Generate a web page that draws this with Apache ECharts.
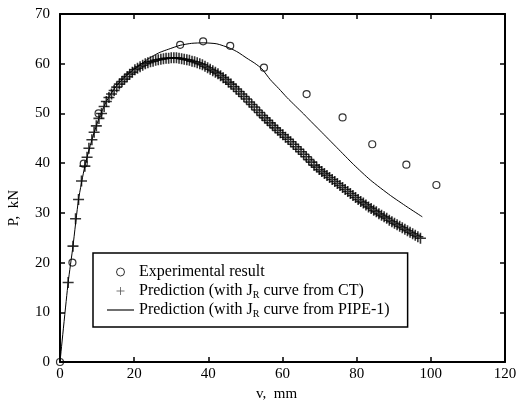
<!DOCTYPE html>
<html>
<head>
<meta charset="utf-8">
<script src="https://cdn.jsdelivr.net/npm/echarts@6/dist/echarts.min.js"></script>
<style>html,body{margin:0;padding:0;background:#fff}#c{width:517px;height:403px}</style>
</head>
<body>
<div id="c"></div>
<script>
// Experimental result (circles)
var expV = [0, 3.35, 6.4, 10.4, 32.4, 38.6, 45.9, 55.0, 66.5, 76.2, 84.2, 93.4, 101.5];
var expP = [0, 20.0, 39.9, 50.0, 63.8, 64.5, 63.6, 59.2, 53.9, 49.2, 43.8, 39.7, 35.6];

// Prediction with J_R curve from CT (crosses)
var ctV = [2.2, 3.5, 4.2, 5.0, 5.8, 6.7, 7.3, 7.8, 8.6, 9.2, 9.8, 10.5, 11.2, 11.9, 12.5,
  13.2, 13.9, 14.6, 15.3, 16.0, 16.7, 17.4, 18.1, 18.8, 19.5, 20.2, 20.9, 21.6, 22.3, 23.0,
  23.7, 24.4, 25.1, 25.8, 26.5, 27.2, 27.9, 28.6, 29.3, 30.0, 30.7, 31.4, 32.1, 32.8, 33.5,
  34.2, 34.9, 35.6, 36.3, 37.0, 37.7, 38.4, 39.1, 39.8, 40.5, 41.2, 41.9, 42.6, 43.3, 44.0,
  44.7, 45.4, 46.1, 46.8, 47.5, 48.2, 48.9, 49.6, 50.3, 51.0, 51.7, 52.4, 53.1, 53.8, 54.5,
  55.2, 55.9, 56.6, 57.3, 58.0, 58.7, 59.4, 60.1, 60.8, 61.5, 62.2, 62.9, 63.6, 64.3, 65.0,
  65.7, 66.4, 67.1, 67.8, 68.5, 69.2, 69.9, 70.6, 71.3, 72.0, 72.7, 73.4, 74.1, 74.8, 75.5,
  76.2, 76.9, 77.6, 78.3, 79.0, 79.7, 80.4, 81.1, 81.8, 82.5, 83.2, 83.9, 84.6, 85.3, 86.0,
  86.7, 87.4, 88.1, 88.8, 89.5, 90.2, 90.9, 91.6, 92.3, 93.0, 93.7, 94.4, 95.1, 95.8, 96.5, 97.2];
var ctP = [16.0, 23.3, 28.8, 32.7, 36.4, 39.4, 41.2, 43.0, 44.7, 46.2, 47.5, 49.0, 50.0, 51.4, 52.4,
  53.2, 53.9, 54.6, 55.3, 55.9, 56.4, 56.9, 57.4, 57.9, 58.3, 58.8, 59.1, 59.4, 59.7, 60.0,
  60.2, 60.4, 60.5, 60.7, 60.8, 60.9, 61.0, 61.1, 61.1, 61.2, 61.2, 61.2, 61.1, 61.0, 60.9,
  60.8, 60.7, 60.5, 60.4, 60.2, 60.0, 59.8, 59.5, 59.2, 58.9, 58.6, 58.3, 58.0, 57.6, 57.2,
  56.8, 56.3, 55.9, 55.4, 54.9, 54.4, 53.9, 53.4, 52.9, 52.3, 51.8, 51.3, 50.7, 50.2, 49.6,
  49.1, 48.6, 48.1, 47.6, 47.1, 46.6, 46.1, 45.7, 45.2, 44.8, 44.3, 43.8, 43.3, 42.8, 42.3,
  41.8, 41.3, 40.7, 40.2, 39.6, 39.2, 38.7, 38.3, 37.9, 37.5, 37.1, 36.7, 36.3, 35.9, 35.5,
  35.1, 34.7, 34.3, 33.9, 33.5, 33.1, 32.7, 32.3, 32.0, 31.6, 31.2, 30.9, 30.5, 30.2, 29.8,
  29.5, 29.2, 28.9, 28.5, 28.2, 27.9, 27.6, 27.3, 27.0, 26.7, 26.4, 26.1, 25.8, 25.5, 25.2, 24.9];

// Prediction with J_R curve from PIPE-1 (solid line)
var pipeV = [0, 2.2, 3.5, 5.0, 6.7, 8.6, 10.5, 12.5, 15.0, 17.5, 20.2, 22.5, 24.7, 27.0, 29.2,
  32.4, 35.5, 38.6, 42.3, 45.9, 48.0, 50.4, 52.5, 54.4, 56.7, 59.0, 61.2, 63.5, 65.7, 67.0,
  70.2, 74.7, 79.2, 83.7, 89.1, 93.6, 97.7];
var pipeP = [0, 16.0, 23.3, 32.7, 39.4, 44.7, 49.0, 52.4, 55.3, 57.4, 59.0, 60.3, 61.4, 62.3, 62.9,
  63.7, 64.1, 64.2, 64.0, 63.1, 62.3, 61.1, 60.1, 59.0, 56.8, 55.0, 53.2, 51.5, 49.9, 48.9,
  46.5, 43.1, 39.7, 36.6, 33.5, 31.2, 29.2];

var xTicks = [0, 20, 40, 60, 80, 100, 120];
var yTicks = [0, 10, 20, 30, 40, 50, 60, 70];

var names = ['Experimental result',
  'Prediction (with JR curve from CT)',
  'Prediction (with JR curve from PIPE-1)'];

function zip(a, b) { return a.map(function (v, i) { return [v, b[i]]; }); }

var FONT = '"Liberation Serif", "Times New Roman", serif';
var crossPath = 'path://M0,5L10,5M5,0L5,10';

var chart = echarts.init(document.getElementById('c'), null, {renderer: 'canvas'});

var axisCommon = {
  type: 'value',
  axisLine: {show: true, onZero: false, lineStyle: {color: '#000', width: 2}},
  axisTick: {show: true, inside: true, length: 5, lineStyle: {color: '#000', width: 1.5}},
  splitLine: {show: false}
};

chart.setOption({
  animation: false,
  backgroundColor: '#fff',
  grid: {left: 60, right: 12, top: 14, bottom: 41, containLabel: false, outerBoundsMode: 'none'},
  xAxis: [
    Object.assign({}, axisCommon, {
      min: xTicks[0], max: xTicks[xTicks.length - 1], interval: 20, position: 'bottom',
      name: 'v,  mm', nameLocation: 'middle', nameGap: 22,
      nameTextStyle: {fontFamily: FONT, fontSize: 15, color: '#000', padding: [0, 12, 0, 0]},
      axisLabel: {fontFamily: FONT, fontSize: 15, color: '#000', margin: 5}
    }),
    Object.assign({}, axisCommon, {
      min: xTicks[0], max: xTicks[xTicks.length - 1], interval: 20, position: 'top',
      axisLabel: {show: false}
    })
  ],
  yAxis: [
    Object.assign({}, axisCommon, {
      min: yTicks[0], max: yTicks[yTicks.length - 1], interval: 10, position: 'left',
      name: 'P,  kN', nameLocation: 'middle', nameGap: 38,
      nameTextStyle: {fontFamily: FONT, fontSize: 15, color: '#000', padding: [0, 40, 0, 0]},
      axisLabel: {fontFamily: FONT, fontSize: 15, color: '#000', margin: 10}
    }),
    Object.assign({}, axisCommon, {
      min: yTicks[0], max: yTicks[yTicks.length - 1], interval: 10, position: 'right',
      axisLabel: {show: false}
    })
  ],
  legend: {
    orient: 'vertical',
    left: 93, top: 253,
    padding: [10, 18, 8, 14],
    borderColor: '#000', borderWidth: 1.5,
    backgroundColor: '#fff',
    itemWidth: 27, itemHeight: 8, itemGap: 1,
    selectedMode: false,
    formatter: function (n) { return n.replace('JR', 'J{s|R}'); },
    textStyle: {
      fontFamily: FONT, fontSize: 16, color: '#000', lineHeight: 18,
      rich: {s: {fontFamily: FONT, fontSize: 10, color: '#000', verticalAlign: 'bottom', lineHeight: 18}}
    },
    data: [
      {name: names[0], icon: 'circle', itemStyle: {color: 'transparent', borderColor: '#000', borderWidth: 1}},
      {name: names[1], icon: crossPath, itemStyle: {color: 'transparent', borderColor: '#555', borderWidth: 1}},
      {name: names[2], icon: 'path://M0,0L24,0L24,1L0,1Z', itemStyle: {color: '#000', borderWidth: 0}}
    ]
  },
  series: [
    {
      name: names[2], type: 'line', data: zip(pipeV, pipeP),
      symbol: 'none', color: '#000', z: 2, smooth: 0.2,
      lineStyle: {color: '#000', width: 1}
    },
    {
      name: names[1], type: 'scatter', data: zip(ctV, ctP),
      symbol: crossPath, symbolSize: 11, z: 3,
      itemStyle: {color: 'transparent', borderColor: '#000', borderWidth: 1.6}
    },
    {
      name: names[0], type: 'scatter', data: zip(expV, expP),
      symbol: 'circle', symbolSize: 7, z: 4,
      itemStyle: {color: 'transparent', borderColor: '#000', borderWidth: 1.2}
    }
  ]
});
</script>
</body>
</html>
